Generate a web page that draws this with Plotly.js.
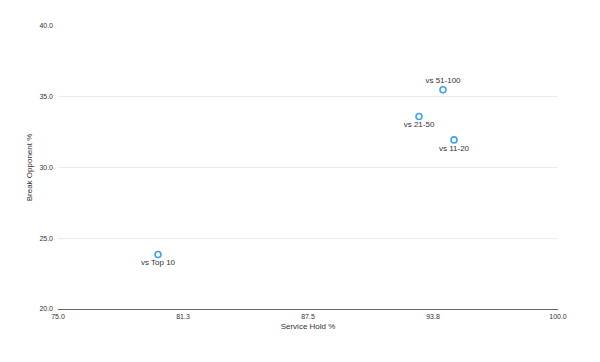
<!DOCTYPE html>
<html>
<head>
<meta charset="utf-8">
<script src="https://cdn.plot.ly/plotly-3.0.1.min.js"></script>
<style>html,body{margin:0;padding:0;background:#fff;}#chart{width:600px;height:362px;}</style>
</head>
<body>
<div id="chart"></div>
<script>
const labels = ["vs Top 10", "vs 11-20", "vs 21-50", "vs 51-100"];
const serviceHold = [80.0, 94.8, 93.05, 94.25];
const breakOpponent = [23.85, 31.95, 33.6, 35.5];
const labelPositions = ["bottom center", "bottom center", "bottom center", "top center"];
const xTickVals = [75, 81.25, 87.5, 93.75, 100];
const xTickText = ["75.0", "81.3", "87.5", "93.8", "100.0"];
const yTickVals = [20, 25, 30, 35, 40];
const yTickText = ["20.0", "25.0", "30.0", "35.0", "40.0"];

const trace = {
  x: serviceHold,
  y: breakOpponent,
  text: labels,
  mode: "markers+text",
  type: "scatter",
  textposition: labelPositions,
  textfont: {family: "Liberation Sans, Arial, sans-serif", size: 8, color: "#333"},
  marker: {size: 6, color: "rgba(0,0,0,0)", line: {color: "#3ea2f2", width: 1.6}},
  hoverinfo: "none",
  cliponaxis: false
};

const layout = {
  width: 600, height: 362,
  margin: {l: 58, r: 42, t: 26, b: 53},
  paper_bgcolor: "#fff", plot_bgcolor: "#fff",
  showlegend: false,
  font: {family: "Liberation Sans, Arial, sans-serif", size: 8, color: "#333"},
  xaxis: {
    range: [75, 100],
    tickvals: xTickVals, ticktext: xTickText,
    showgrid: false, zeroline: false,
    showline: true, linecolor: "#666", linewidth: 1.2,
    ticks: "", ticklabelstandoff: 0,
    tickfont: {size: 7, color: "#333"},
    title: {text: "Service Hold %", font: {size: 8, color: "#333"}, standoff: 4}
  },
  yaxis: {
    range: [20, 40],
    tickvals: yTickVals, ticktext: yTickText,
    showgrid: true, gridcolor: "#ececec", gridwidth: 1,
    zeroline: false, showline: false,
    ticks: "", ticklabelstandoff: 4,
    tickfont: {size: 7, color: "#333"},
    title: {text: "Break Opponent %", font: {size: 8, color: "#333"}, standoff: 5}
  }
};

Plotly.newPlot("chart", [trace], layout, {displayModeBar: false, staticPlot: true});
</script>
</body>
</html>
